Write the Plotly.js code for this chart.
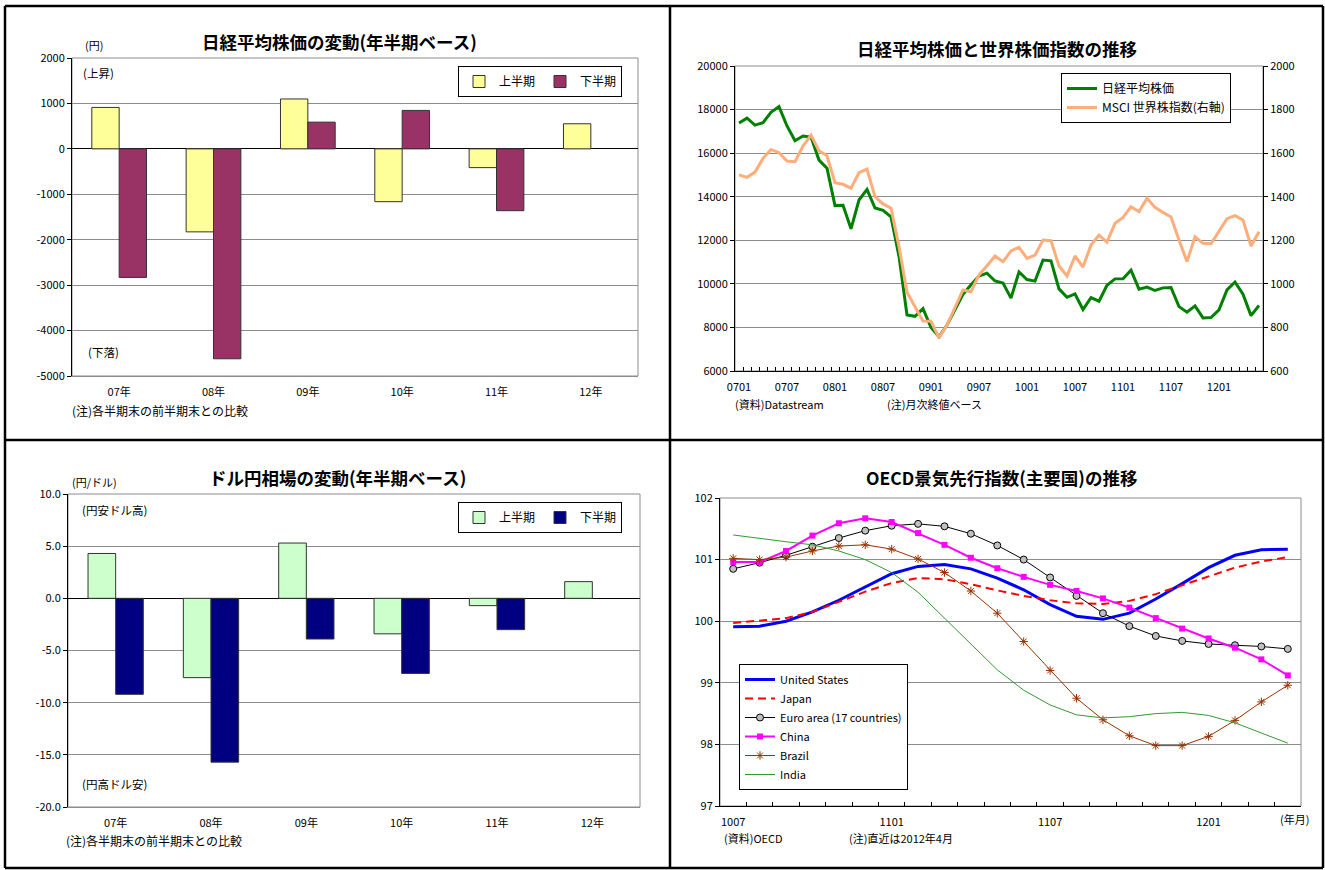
<!DOCTYPE html>
<html>
<head>
<meta charset="utf-8">
<script src="https://cdn.plot.ly/plotly-3.0.1.min.js"></script>
<style>html,body{margin:0;padding:0;background:#fff;}#chart{width:1325px;height:870px;}</style>
</head>
<body>
<div id="chart"></div>
<script>
// ---------- DATA ----------
const halfYears = ['07年','08年','09年','10年','11年','12年'];
const nikkeiH1 = [912, -1827, 1098, -1163, -413, 552];
const nikkeiH2 = [-2830, -4621, 588, 846, -1361, null];
const usdjpyH1 = [4.3, -7.6, 5.3, -3.4, -0.7, 1.6];
const usdjpyH2 = [-9.2, -15.7, -3.9, -7.2, -3.0, null];

const months = ['0701','0702','0703','0704','0705','0706','0707','0708','0709','0710','0711','0712',
 '0801','0802','0803','0804','0805','0806','0807','0808','0809','0810','0811','0812',
 '0901','0902','0903','0904','0905','0906','0907','0908','0909','0910','0911','0912',
 '1001','1002','1003','1004','1005','1006','1007','1008','1009','1010','1011','1012',
 '1101','1102','1103','1104','1105','1106','1107','1108','1109','1110','1111','1112',
 '1201','1202','1203','1204','1205','1206'];
const nikkei = [17383,17604,17288,17400,17876,18138,17248,16569,16785,16737,15680,15308,
 13592,13603,12526,13849,14338,13481,13377,13072,11260,8577,8512,8860,
 7994,7568,8110,8828,9523,9958,10357,10493,10133,10035,9346,10546,
 10198,10126,11090,11057,9769,9383,9537,8824,9369,9202,9937,10229,
 10238,10624,9755,9850,9694,9816,9833,8955,8700,8988,8435,8455,
 8803,9723,10084,9521,8543,9007];
const msci = [1500,1489,1513,1576,1617,1602,1564,1561,1633,1683,1611,1588,
 1464,1457,1439,1510,1527,1400,1367,1347,1171,961,895,829,
 828,752,811,888,972,964,1041,1083,1128,1102,1151,1168,
 1117,1132,1201,1198,1082,1036,1128,1077,1178,1224,1192,1278,
 1305,1354,1331,1393,1351,1328,1307,1201,1102,1216,1186,1184,
 1239,1299,1313,1293,1174,1239];

const cliMonths = ['1007','1008','1009','1010','1011','1012','1101','1102','1103','1104','1105','1106',
 '1107','1108','1109','1110','1111','1112','1201','1202','1203','1204'];
const cliUS = [99.91,99.92,100.00,100.15,100.34,100.55,100.77,100.89,100.92,100.85,100.70,100.51,
 100.27,100.08,100.03,100.13,100.36,100.61,100.87,101.07,101.16,101.17];
const cliJapan = [99.97,100.01,100.05,100.15,100.31,100.48,100.62,100.70,100.68,100.60,100.50,100.41,
 100.34,100.29,100.28,100.33,100.44,100.58,100.72,100.87,100.97,101.04];
const cliEuro = [100.85,100.95,101.07,101.21,101.35,101.47,101.55,101.58,101.54,101.42,101.23,101.00,
 100.71,100.41,100.13,99.92,99.76,99.68,99.63,99.61,99.59,99.55];
const cliChina = [100.96,100.96,101.14,101.39,101.59,101.67,101.61,101.43,101.24,101.03,100.86,100.72,
 100.59,100.49,100.37,100.22,100.05,99.88,99.72,99.57,99.38,99.12];
const cliBrazil = [101.02,101.00,101.04,101.14,101.22,101.24,101.17,101.01,100.79,100.49,100.13,99.67,
 99.20,98.75,98.40,98.14,97.98,97.98,98.13,98.39,98.69,98.96];
const cliIndia = [101.40,101.34,101.29,101.24,101.14,101.00,100.79,100.47,100.05,99.62,99.21,98.88,
 98.64,98.48,98.43,98.45,98.50,98.52,98.47,98.35,98.19,98.02];

const p1Ticks = [2000,1000,0,-1000,-2000,-3000,-4000,-5000];
const p1TickText = ['2000','1000','0','-1000','-2000','-3000','-4000','-5000'];
const p3Ticks = [10,5,0,-5,-10,-15,-20];
const p3TickText = ['10.0','5.0','0.0','-5.0','-10.0','-15.0','-20.0'];
const nikkeiLabelEvery = 6;
const cliLabels = ['1007','1101','1107','1201'];

// ---------- LAYOUT HELPERS ----------
const W = 1325, H = 870;
const X = p => p / W;
const Y = p => 1 - p / H;
const FONT = 'Noto Sans CJK JP, Noto Sans, sans-serif';
const GRID = '#8c8c8c';

const nikkeiTickText = months.map((m, i) => (i % nikkeiLabelEvery === 0 ? m : ''));
const cliTickText = cliMonths.map(m => (cliLabels.includes(m) ? m : ''));

const traces = [
  // Panel 1
  {type:'bar', x:halfYears, y:nikkeiH1, name:'上半期', xaxis:'x', yaxis:'y', legend:'legend',
   marker:{color:'#FFFF99', line:{color:'#333', width:1}}},
  {type:'bar', x:halfYears, y:nikkeiH2, name:'下半期', xaxis:'x', yaxis:'y', legend:'legend',
   marker:{color:'#993366', line:{color:'#333', width:1}}},
  // Panel 2
  {type:'scatter', mode:'lines', x:months, y:nikkei, name:'日経平均株価', xaxis:'x2', yaxis:'y2', legend:'legend2',
   line:{color:'#008000', width:3}},
  {type:'scatter', mode:'lines', x:months, y:msci, name:'MSCI 世界株指数(右軸)', xaxis:'x2', yaxis:'y5', legend:'legend2',
   line:{color:'#FFAD7A', width:3}},
  // Panel 3
  {type:'bar', x:halfYears, y:usdjpyH1, name:'上半期', xaxis:'x3', yaxis:'y3', legend:'legend3',
   marker:{color:'#CCFFCC', line:{color:'#333', width:1}}},
  {type:'bar', x:halfYears, y:usdjpyH2, name:'下半期', xaxis:'x3', yaxis:'y3', legend:'legend3',
   marker:{color:'#000080', line:{color:'#333', width:1}}},
  // Panel 4
  {type:'scatter', mode:'lines', x:cliMonths, y:cliUS, name:'United States', xaxis:'x4', yaxis:'y4', legend:'legend4',
   line:{color:'#0000FF', width:3}},
  {type:'scatter', mode:'lines', x:cliMonths, y:cliJapan, name:'Japan', xaxis:'x4', yaxis:'y4', legend:'legend4',
   line:{color:'#FF0000', width:2, dash:'8px,5px'}},
  {type:'scatter', mode:'lines+markers', x:cliMonths, y:cliEuro, name:'Euro area (17 countries)', xaxis:'x4', yaxis:'y4', legend:'legend4',
   line:{color:'#000000', width:1}, marker:{symbol:'circle', size:7, color:'#C0C0C0', line:{color:'#000', width:1}}},
  {type:'scatter', mode:'lines+markers', x:cliMonths, y:cliChina, name:'China', xaxis:'x4', yaxis:'y4', legend:'legend4',
   line:{color:'#FF00FF', width:2}, marker:{symbol:'square', size:6, color:'#FF00FF'}},
  {type:'scatter', mode:'lines+markers', x:cliMonths, y:cliBrazil, name:'Brazil', xaxis:'x4', yaxis:'y4', legend:'legend4',
   line:{color:'#993300', width:1}, marker:{symbol:'asterisk-open', size:7, color:'#993300', line:{color:'#993300', width:1}}},
  {type:'scatter', mode:'lines', x:cliMonths, y:cliIndia, name:'India', xaxis:'x4', yaxis:'y4', legend:'legend4',
   line:{color:'#339933', width:1}}
];

const tickFont = {family:FONT, size:11, color:'#000'};

function catAxis(domain, anchor, extra) {
  return Object.assign({
    domain:domain, anchor:anchor, type:'category', showgrid:false, zeroline:false,
    showline:true, linecolor:'#000', linewidth:1, mirror:false, tickangle:0,
    tickfont:tickFont, ticks:'', fixedrange:true, ticklabelstandoff:6
  }, extra || {});
}

function valAxis(domain, anchor, extra) {
  return Object.assign({
    domain:domain, anchor:anchor, showgrid:true, gridcolor:GRID, gridwidth:1,
    showline:true, linecolor:'#000', linewidth:1, ticks:'outside', ticklen:4, tickcolor:'#000',
    tickfont:tickFont, zeroline:false, fixedrange:true
  }, extra || {});
}

const legendBase = {
  bgcolor:'#fff', bordercolor:'#000', borderwidth:1,
  font:{family:FONT, size:12, color:'#000'}, xanchor:'left', yanchor:'top'
};

function ann(text, x, y, opts) {
  return Object.assign({text:text, x:X(x), y:Y(y), xref:'paper', yref:'paper', showarrow:false,
    xanchor:'center', yanchor:'middle', font:{family:FONT, size:11.5, color:'#000'}}, opts || {});
}
function title(text, x, y) {
  return ann('<b>' + text + '</b>', x, y, {font:{family:FONT, size:17.5, color:'#000'}});
}

const annotations = [
  title('日経平均株価の変動(年半期ベース)', 339, 41),
  ann('(円)', 94, 45, {font:{family:FONT, size:11, color:'#000'}}),
  ann('(上昇)', 98, 73),
  ann('(下落)', 103, 352),
  ann('(注)各半期末の前半期末との比較', 70, 410, {xanchor:'left', font:{family:FONT, size:12, color:'#000'}}),

  title('日経平均株価と世界株価指数の推移', 997, 48),
  ann('(資料)Datastream', 733, 404, {xanchor:'left', font:{family:FONT, size:11, color:'#000'}}),
  ann('(注)月次終値ベース', 885, 404, {xanchor:'left', font:{family:FONT, size:11, color:'#000'}}),

  title('ドル円相場の変動(年半期ベース)', 337, 477),
  ann('(円/ドル)', 94, 482, {font:{family:FONT, size:11, color:'#000'}}),
  ann('(円安ドル高)', 114, 510),
  ann('(円高ドル安)', 114, 784),
  ann('(注)各半期末の前半期末との比較', 64, 840, {xanchor:'left', font:{family:FONT, size:12, color:'#000'}}),

  title('OECD景気先行指数(主要国)の推移', 1001, 478),
  ann('(資料)OECD', 722, 838, {xanchor:'left', font:{family:FONT, size:11, color:'#000'}}),
  ann('(注)直近は2012年4月', 847, 838, {xanchor:'left', font:{family:FONT, size:11, color:'#000'}}),
  ann('(年月)', 1294, 819, {font:{family:FONT, size:11, color:'#000'}})
];

function frame(x0, y0, x1, y1) {
  return {type:'rect', xref:'paper', yref:'paper', x0:X(x0), x1:X(x1), y0:Y(y1), y1:Y(y0),
    line:{color:'#8c8c8c', width:1}, layer:'below'};
}
function bline(x0, y0, x1, y1) {
  return {type:'line', xref:'paper', yref:'paper', x0:X(x0), x1:X(x1), y0:Y(y0), y1:Y(y1),
    line:{color:'#000', width:2.5}, layer:'above'};
}

const shapes = [
  frame(72, 58, 638, 376),
  frame(735, 66, 1263, 371),
  frame(68, 494, 640, 807),
  frame(720, 498, 1301, 806),
  bline(5, 6, 1323, 6), bline(5, 868, 1323, 868),
  bline(5, 6, 5, 868), bline(1323, 6, 1323, 868),
  bline(670, 6, 670, 868), bline(5, 440, 1323, 440)
];

const layout = {
  width:W, height:H, autosize:false,
  margin:{l:0, r:0, t:0, b:0, pad:0},
  paper_bgcolor:'#fff', plot_bgcolor:'rgba(0,0,0,0)',
  font:{family:FONT, color:'#000'},
  barmode:'group', bargap:0.42, bargroupgap:0,
  showlegend:true,
  // Panel 1
  xaxis: catAxis([X(72), X(638)], 'y', {linecolor:'#8c8c8c', range:[-0.5, 5.5]}),
  yaxis: valAxis([Y(376), Y(58)], 'x', {range:[-5000, 2000], tickmode:'array', tickvals:p1Ticks, ticktext:p1TickText,
    zeroline:true, zerolinecolor:'#000', zerolinewidth:1}),
  // Panel 2
  xaxis2: catAxis([X(735), X(1263)], 'y2', {range:[-0.5, months.length - 0.5], tickmode:'array', tickvals:months, ticktext:nikkeiTickText,
    tickson:'boundaries', ticks:'inside', ticklen:4, tickcolor:'#000'}),
  yaxis2: valAxis([Y(371), Y(66)], 'x2', {range:[6000, 20000], dtick:2000, tickformat:'d'}),
  yaxis5: valAxis([Y(371), Y(66)], 'x2', {overlaying:'y2', side:'right', range:[600, 2000], dtick:200, tickformat:'d', showgrid:false}),
  // Panel 3
  xaxis3: catAxis([X(68), X(640)], 'y3', {linecolor:'#8c8c8c', range:[-0.5, 5.5]}),
  yaxis3: valAxis([Y(807), Y(494)], 'x3', {range:[-20, 10], tickmode:'array', tickvals:p3Ticks, ticktext:p3TickText,
    zeroline:true, zerolinecolor:'#000', zerolinewidth:1}),
  // Panel 4
  xaxis4: catAxis([X(720), X(1301)], 'y4', {range:[-0.5, cliMonths.length - 0.5], tickmode:'array', tickvals:cliMonths, ticktext:cliTickText,
    tickson:'boundaries', ticks:'inside', ticklen:4, tickcolor:'#000'}),
  yaxis4: valAxis([Y(806), Y(498)], 'x4', {range:[97, 102], dtick:1}),

  legend: Object.assign({}, legendBase, {x:X(622), xanchor:'right', y:Y(66), orientation:'h', entrywidth:36}),
  legend2: Object.assign({}, legendBase, {x:X(1061), y:Y(73), orientation:'v', font:{family:FONT, size:12, color:'#000'}}),
  legend3: Object.assign({}, legendBase, {x:X(622), xanchor:'right', y:Y(502), orientation:'h', entrywidth:36}),
  legend4: Object.assign({}, legendBase, {x:X(739), y:Y(664), orientation:'v', font:{family:FONT, size:11, color:'#000'}, tracegroupgap:0}),

  annotations:annotations,
  shapes:shapes
};

Plotly.newPlot('chart', traces, layout, {staticPlot:true, displayModeBar:false});
</script>
</body>
</html>
